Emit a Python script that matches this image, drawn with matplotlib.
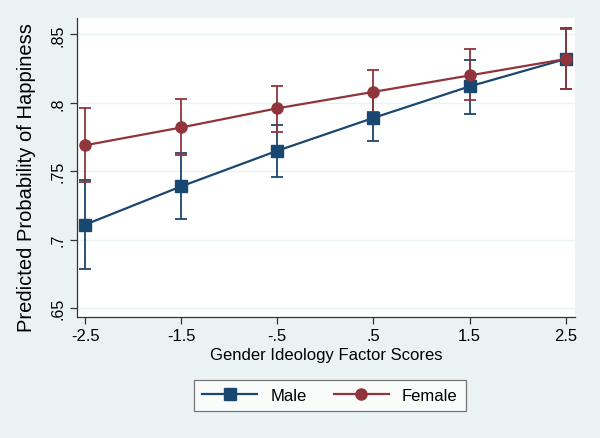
import matplotlib
matplotlib.use("Agg")
import matplotlib.pyplot as plt

plt.rcParams['font.family'] = ['Liberation Sans', 'DejaVu Sans']

x = [-2.5, -1.5, -0.5, 0.5, 1.5, 2.5]
xticklabels = ["-2.5", "-1.5", "-.5", ".5", "1.5", "2.5"]
yticks = [0.65, 0.70, 0.75, 0.80, 0.85]
yticklabels = [".65", ".7", ".75", ".8", ".85"]

male = [0.711, 0.739, 0.765, 0.789, 0.812, 0.832]
male_lo = [0.679, 0.715, 0.746, 0.772, 0.792, 0.810]
male_hi = [0.744, 0.763, 0.784, 0.807, 0.831, 0.855]

female = [0.769, 0.782, 0.796, 0.808, 0.820, 0.832]
female_lo = [0.742, 0.762, 0.779, 0.793, 0.802, 0.810]
female_hi = [0.796, 0.803, 0.812, 0.824, 0.839, 0.854]

bg = "#eaf2f3"
navy = "#1a476f"
maroon = "#90353b"

fig = plt.figure(figsize=(6.0, 4.39), dpi=100, facecolor=bg)
ax = fig.add_axes([0.128, 0.2756, 0.830, 0.681])
ax.set_facecolor("white")

def yerr(c, lo, hi):
    return [[ci - l for ci, l in zip(c, lo)], [h - ci for ci, h in zip(c, hi)]]

ax.errorbar(x, male, yerr=yerr(male, male_lo, male_hi), fmt='none',
            ecolor=navy, elinewidth=1.3, capsize=4, capthick=1.3, zorder=2)
ax.errorbar(x, female, yerr=yerr(female, female_lo, female_hi), fmt='none',
            ecolor=maroon, elinewidth=1.3, capsize=4, capthick=1.3, zorder=2)
ax.plot(x, male, color=navy, marker='s', markersize=8.5, linewidth=1.6,
        label="Male", zorder=3)
ax.plot(x, female, color=maroon, marker='o', markersize=8, linewidth=1.6,
        label="Female", zorder=4)

ax.set_xlim(-2.586, 2.594)
ax.set_ylim(0.6436, 0.8619)
ax.set_xticks(x)
ax.set_xticklabels(xticklabels, fontsize=12)
ax.set_yticks(yticks)
ax.set_yticklabels(yticklabels, fontsize=11.5, rotation=90, va='center')
ax.grid(axis='y', color=bg, linewidth=1.0)
ax.set_axisbelow(True)
for s in ['top', 'right']:
    ax.spines[s].set_visible(False)
for s in ['left', 'bottom']:
    ax.spines[s].set_color("#333333")
    ax.spines[s].set_linewidth(0.9)
ax.tick_params(axis='both', length=5, width=0.9, color="#333333", pad=3)

ax.set_xlabel("Gender Ideology Factor Scores", fontsize=12, labelpad=3)
ax.set_ylabel("Predicted Probability of Happiness", fontsize=14.5)
ax.yaxis.set_label_coords(-0.082, 0.47)

leg = fig.legend(loc='center', bbox_to_anchor=(0.55, 0.097), ncol=2,
                 fontsize=12, frameon=True, fancybox=False, handlelength=3.3,
                 columnspacing=1.6, borderpad=0.5)
leg.get_frame().set_edgecolor("#555555")
leg.get_frame().set_linewidth(0.9)

fig.savefig("out.png", dpi=100, facecolor=bg)
